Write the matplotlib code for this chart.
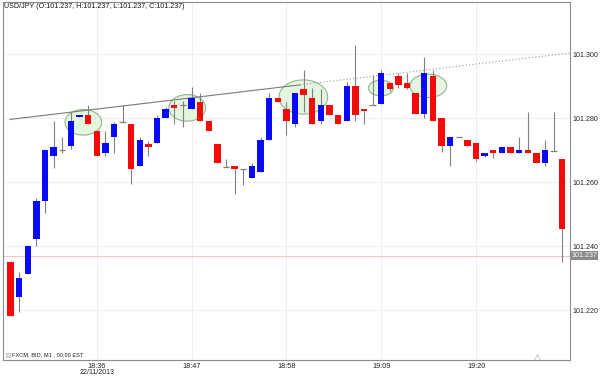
import matplotlib
matplotlib.use("Agg")
import matplotlib.pyplot as plt
from matplotlib.patches import Ellipse
import numpy as np

plt.rcParams['font.family'] = ['Liberation Sans', 'DejaVu Sans']

# ---- data (USD/JPY, M1 candles) ----
opens = [101.2351, 101.2242, 101.2313, 101.2423, 101.2542, 101.2681, 101.2699, 101.2713, 101.2802, 101.2809,
         101.2760, 101.2692, 101.2742, 101.2788, 101.2781, 101.2651, 101.2719, 101.2721, 101.2801, 101.2842,
         101.2841, 101.2830, 101.2851, 101.2791, 101.2719, 101.2648, 101.2651, 101.2642, 101.2612, 101.2631,
         101.2733, 101.2862, 101.2830, 101.2783, 101.2891, 101.2862, 101.2791, 101.2841, 101.2809, 101.2791,
         101.2900, 101.2830, 101.2841, 101.2843, 101.2910, 101.2931, 101.2910, 101.2879, 101.2812, 101.2931,
         101.2799, 101.2713, 101.2740, 101.2731, 101.2721, 101.2681, 101.2700, 101.2692, 101.2710, 101.2692,
         101.2700, 101.2692, 101.2660, 101.2698, 101.2671]
highs = [101.2355, 101.2320, 101.2403, 101.2551, 101.2703, 101.2792, 101.2740, 101.2820, 101.2809, 101.2841,
         101.2760, 101.2759, 101.2788, 101.2841, 101.2781, 101.2740, 101.2729, 101.2809, 101.2835, 101.2853,
         101.2853, 101.2898, 101.2879, 101.2791, 101.2719, 101.2671, 101.2651, 101.2642, 101.2660, 101.2740,
         101.2879, 101.2862, 101.2851, 101.2880, 101.2950, 101.2893, 101.2890, 101.2841, 101.2809, 101.2913,
         101.3028, 101.2830, 101.2934, 101.2950, 101.2910, 101.2942, 101.2942, 101.2879, 101.2992, 101.2950,
         101.2799, 101.2740, 101.2740, 101.2731, 101.2721, 101.2692, 101.2700, 101.2710, 101.2710, 101.2740,
         101.2820, 101.2692, 101.2731, 101.2820, 101.2671]
lows = [101.2182, 101.2193, 101.2313, 101.2401, 101.2502, 101.2643, 101.2692, 101.2703, 101.2802, 101.2783,
        101.2681, 101.2681, 101.2692, 101.2788, 101.2593, 101.2651, 101.2681, 101.2721, 101.2801, 101.2783,
        101.2772, 101.2830, 101.2791, 101.2760, 101.2660, 101.2648, 101.2562, 101.2591, 101.2612, 101.2631,
        101.2733, 101.2850, 101.2747, 101.2773, 101.2820, 101.2781, 101.2783, 101.2809, 101.2781, 101.2791,
        101.2792, 101.2783, 101.2841, 101.2843, 101.2885, 101.2893, 101.2890, 101.2812, 101.2801, 101.2791,
        101.2693, 101.2651, 101.2740, 101.2713, 101.2666, 101.2677, 101.2674, 101.2692, 101.2692, 101.2692,
        101.2692, 101.2660, 101.2651, 101.2698, 101.2351]
closes = [101.2182, 101.2301, 101.2401, 101.2541, 101.2700, 101.2710, 101.2699, 101.2791, 101.2809, 101.2783,
          101.2681, 101.2721, 101.2781, 101.2788, 101.2641, 101.2731, 101.2710, 101.2801, 101.2830, 101.2832,
          101.2841, 101.2862, 101.2791, 101.2760, 101.2660, 101.2648, 101.2642, 101.2642, 101.2650, 101.2733,
          101.2862, 101.2850, 101.2792, 101.2880, 101.2872, 101.2781, 101.2841, 101.2809, 101.2781, 101.2900,
          101.2809, 101.2822, 101.2841, 101.2940, 101.2890, 101.2903, 101.2893, 101.2812, 101.2940, 101.2791,
          101.2713, 101.2740, 101.2740, 101.2713, 101.2671, 101.2692, 101.2692, 101.2710, 101.2692, 101.2700,
          101.2692, 101.2660, 101.2700, 101.2698, 101.2452]

tick_index = [10, 21, 32, 43, 54]
tick_labels = ["18:36", "18:47", "18:58", "19:09", "19:20"]
date_label = "22/11/2013"
price_ticks = [101.220, 101.240, 101.260, 101.280, 101.300]
last_price = 101.237

# trendline anchors (candle index, price)
trend_x = [-0.06, 33.6, 65.0]
trend_y = [101.2796, 101.2904, 101.3004]

# highlighted zones: (centre index, centre price, width in candles, height in price)
zones = [(8.45, 101.2787, 4.26, 0.0080),
         (20.5, 101.2832, 4.26, 0.0083),
         (33.97, 101.2866, 5.65, 0.0107),
         (42.96, 101.2894, 2.90, 0.0049),
         (48.47, 101.2901, 4.26, 0.0073)]

title = "USD/JPY (O:101.237, H:101.237, L:101.237, C:101.237)"
footer = "FXCM, BID, M1 , 00:00 EST"

# ---- figure ----
fig = plt.figure(figsize=(6.0, 3.77), dpi=100)
ax = fig.add_axes([3/600, 17/377, 567/600, 358/377])
ax.set_xlim(-0.87, 64.9)
ax.set_ylim(101.2044, 101.3163)

# grid
for p in price_ticks:
    ax.axhline(p, color='#eeeeee', lw=0.7, zorder=0)
for t in tick_index:
    ax.axvline(t, color='#eeeeee', lw=0.7, zorder=0)

# last price line
ax.axhline(last_price, color='#efc6c6', lw=0.8, zorder=1)

# zones
for cx, cy, w, h in zones:
    ax.add_patch(Ellipse((cx, cy), w, h, facecolor='#e2f5dc', edgecolor='#86ad86',
                         lw=0.8, zorder=1, alpha=0.9))

# trendline
ax.plot(trend_x[:2], trend_y[:2], color='#7a7a7a', lw=0.8, zorder=2)
ax.plot(trend_x[1:], trend_y[1:], color='#9a9a9a', lw=0.8, ls=(0, (1, 2)), zorder=2)

# candles
idx = np.arange(len(opens))
o = np.array(opens); h = np.array(highs); l = np.array(lows); c = np.array(closes)
ax.vlines(idx, l, h, color='#808080', lw=0.8, zorder=3)
bw = 0.74
for i in idx:
    if abs(c[i] - o[i]) < 1e-6:
        ax.hlines(o[i], i - bw/2, i + bw/2, color='#808080', lw=0.9, zorder=4)
    else:
        col = '#0a0af5' if c[i] > o[i] else '#f50a0a'
        ax.bar(i, abs(c[i] - o[i]), bottom=min(o[i], c[i]), width=bw,
               color=col, edgecolor='none', zorder=4)

# axes styling
for s in ax.spines.values():
    s.set_color('#8c8c8c')
    s.set_linewidth(0.8)
ax.yaxis.tick_right()
ax.set_yticks(price_ticks)
ax.set_yticklabels([f"{p:.3f}" for p in price_ticks])
ax.set_xticks(tick_index)
ax.set_xticklabels(tick_labels)
ax.tick_params(axis='y', length=0, pad=1.5, labelsize=5.1, labelcolor='#222222')
ax.tick_params(axis='x', length=0, pad=1.8, labelsize=5.2, labelcolor='#222222')

# date under the first time label (placed just above the figure's bottom edge)
ax.annotate(date_label, xy=(tick_index[0], 0), xycoords=('data', 'figure fraction'),
            xytext=(0, 1.5), textcoords='offset pixels',
            ha='center', va='bottom', fontsize=5.0, color='#222222')

# last price label box
ax.text(1.0025, last_price, f"{last_price:.3f}", transform=ax.get_yaxis_transform(),
        ha='left', va='center', fontsize=5.1, color='white',
        bbox=dict(boxstyle='square,pad=0.15', facecolor='#8a8a8a', edgecolor='none'))

# title and footer
ax.text(0.0025, 0.996, title, transform=ax.transAxes, ha='left', va='top',
        fontsize=5.1, color='#111111')
ax.plot([0.008], [0.014], marker='s', ms=2.5, mfc='#dddddd', mec='#aaaaaa', mew=0.4,
        transform=ax.transAxes, clip_on=False)
ax.text(0.0159, 0.014, footer, transform=ax.transAxes, ha='left', va='center',
        fontsize=4.1, color='#222222')

# scroll marker
ax.plot([0.941], [0.008], marker='^', ms=5, mfc='white', mec='#bbbbbb', mew=0.6,
        transform=ax.transAxes, clip_on=False)

fig.savefig("out.png", dpi=100, facecolor='white')
